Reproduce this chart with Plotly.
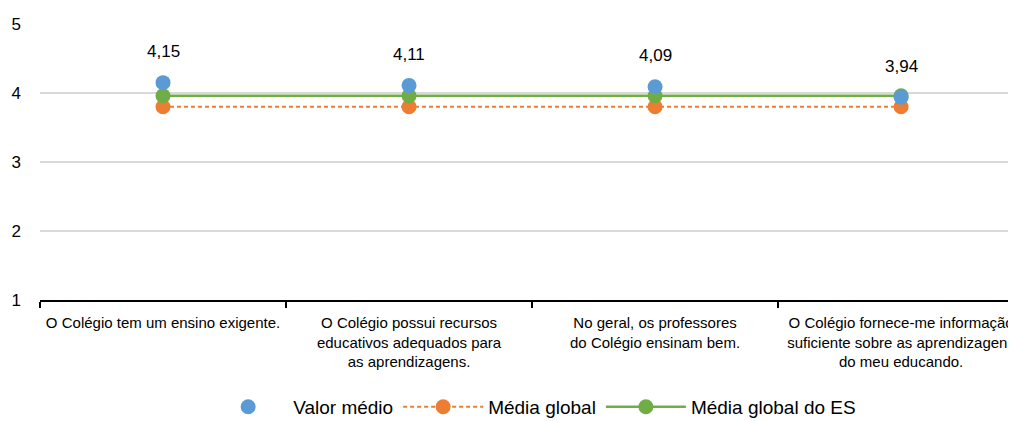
import plotly.graph_objects as go

categories = [
    "O Colégio tem um ensino exigente.",
    "O Colégio possui recursos<br>educativos adequados para<br>as aprendizagens.",
    "No geral, os professores<br>do Colégio ensinam bem.",
    "O Colégio fornece-me informação<br>suficiente sobre as aprendizagens<br>do meu educando.",
]
valor_medio = [4.15, 4.11, 4.09, 3.94]
media_global = [3.80, 3.80, 3.80, 3.80]
media_global_es = [3.96, 3.96, 3.96, 3.96]
y_ticks = [1, 2, 3, 4, 5]

FONT = "Liberation Sans Narrow, Arial Narrow, Liberation Sans, Arial, sans-serif"
BLUE = "#5b9bd5"
ORANGE = "#ed7d31"
GREEN = "#70ad47"

fig = go.Figure()
fig.add_trace(go.Scatter(
    x=categories, y=media_global, name="Média global", mode="lines+markers",
    line=dict(color=ORANGE, width=2, dash="4px,3px"),
    marker=dict(color=ORANGE, size=15), legendrank=2,
))
fig.add_trace(go.Scatter(
    x=categories, y=media_global_es, name="Média global do ES", mode="lines+markers",
    line=dict(color=GREEN, width=2.5),
    marker=dict(color=GREEN, size=15), legendrank=3,
))
fig.add_trace(go.Scatter(
    x=categories, y=valor_medio, name="Valor médio", mode="markers",
    marker=dict(color=BLUE, size=15), legendrank=1,
))

for c, v in zip(categories, valor_medio):
    fig.add_annotation(
        x=c, y=v, text=f"{v:.2f}".replace(".", ","), showarrow=False,
        yshift=31, font=dict(family=FONT, size=17, color="#000000"),
    )

fig.update_layout(
    width=1008, height=413,
    margin=dict(l=32, r=0, t=16, b=121, autoexpand=False),
    paper_bgcolor="white", plot_bgcolor="white",
    font=dict(family=FONT, color="#000000"),
    separators=", ",
    showlegend=True,
    legend=dict(
        orientation="h", x=0.52, xanchor="center", xref="container",
        y=0.034, yanchor="middle", yref="container",
        font=dict(family=FONT, size=19), itemwidth=80,
    ),
)
fig.update_xaxes(
    type="category", range=[-0.5, 3.467], automargin=False,
    showgrid=False, showline=True, linecolor="#000000", linewidth=2,
    ticks="outside", tickson="boundaries", ticklen=6, tickwidth=1.5, tickcolor="#000000",
    tickfont=dict(family=FONT, size=15), ticklabelstandoff=8, fixedrange=True,
)
fig.update_yaxes(
    range=[1, 5], tickvals=y_ticks, showgrid=True, gridcolor="#d9d9d9", gridwidth=1.5,
    zeroline=False, showline=False, tickfont=dict(family=FONT, size=17),
    ticklabelstandoff=18, automargin=False,
)

fig.write_html("out.html")
